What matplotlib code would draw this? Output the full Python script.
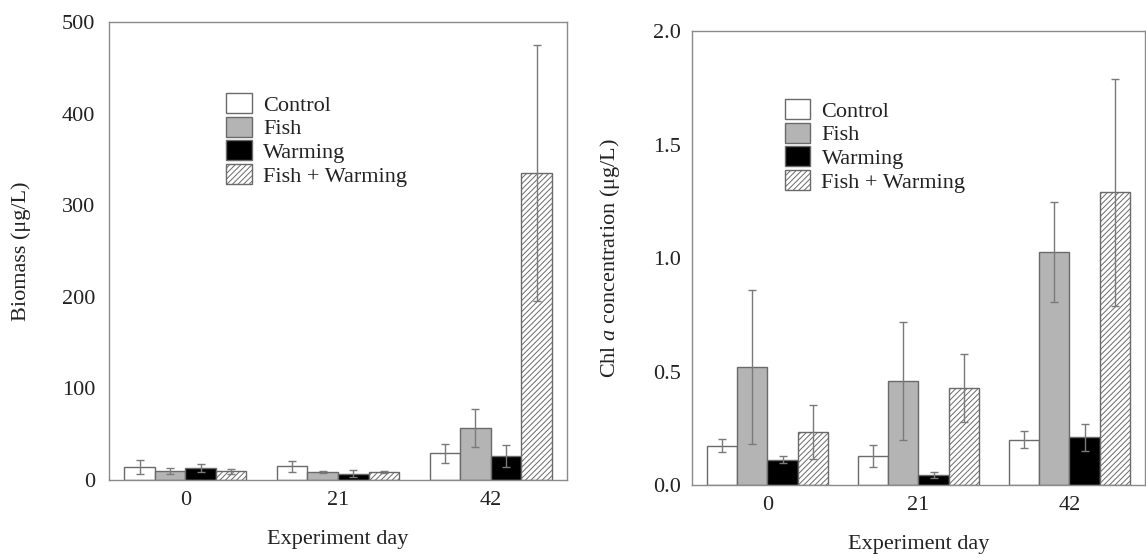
import matplotlib
matplotlib.use("Agg")
import matplotlib.pyplot as plt
import numpy as np

plt.rcParams['font.family'] = ['Liberation Serif', 'DejaVu Serif']
plt.rcParams['mathtext.fontset'] = 'custom'
plt.rcParams['mathtext.rm'] = 'Liberation Serif'
plt.rcParams['mathtext.it'] = 'Liberation Serif:italic'
plt.rcParams['hatch.color'] = '#9a9a9a'
plt.rcParams['hatch.linewidth'] = 0.7

days = ['0', '21', '42']
treatments = ['Control', 'Fish', 'Warming', 'Fish + Warming']

biomass_mean = {
    'Control': [14, 15, 29],
    'Fish': [10, 8.5, 57],
    'Warming': [13, 7, 26.5],
    'Fish + Warming': [9.5, 9, 335],
}
biomass_err = {
    'Control': [8, 6, 10],
    'Fish': [3.5, 1, 21],
    'Warming': [4, 4, 12],
    'Fish + Warming': [3, 1, 140],
}
chla_mean = {
    'Control': [0.174, 0.127, 0.20],
    'Fish': [0.52, 0.457, 1.026],
    'Warming': [0.112, 0.045, 0.21],
    'Fish + Warming': [0.233, 0.426, 1.29],
}
chla_err = {
    'Control': [0.03, 0.048, 0.036],
    'Fish': [0.34, 0.26, 0.22],
    'Warming': [0.015, 0.012, 0.059],
    'Fish + Warming': [0.12, 0.15, 0.50],
}

styles = {
    'Control': dict(color='white', hatch=None),
    'Fish': dict(color='#b4b4b4', hatch=None),
    'Warming': dict(color='black', hatch=None),
    'Fish + Warming': dict(color='white', hatch='//////'),
}

FS = 16
fig = plt.figure(figsize=(11.46, 5.54), dpi=100)
ax1 = fig.add_axes([0.0951, 0.1336, 0.3997, 0.8267])
ax2 = fig.add_axes([0.6038, 0.1245, 0.3953, 0.8195])


def draw(ax, means, errs, ylim, yticks, yfmt, ylabel, leg_anchor, ypad):
    x = np.arange(len(days))
    w = 0.2
    handles = []
    for i, t in enumerate(treatments):
        st = styles[t]
        b = ax.bar(x + (i - 1.5) * w, means[t], width=w, color=st['color'],
                   edgecolor='#6a6a6a', linewidth=1.0, hatch=st['hatch'],
                   label=t, zorder=2)
        ax.errorbar(x + (i - 1.5) * w, means[t], yerr=errs[t], fmt='none',
                    ecolor='#7a7a7a', elinewidth=1.0, capsize=3, capthick=1.0,
                    zorder=3)
        handles.append(b)
    ax.set_xlim(-0.5, 2.5)
    ax.set_ylim(*ylim)
    ax.set_xticks(x)
    ax.set_xticklabels(days)
    ax.set_yticks(yticks)
    ax.set_yticklabels([yfmt.format(v) for v in yticks])
    ax.tick_params(axis='both', length=0, labelsize=FS, colors='#222222')
    ax.tick_params(axis='x', pad=8)
    ax.tick_params(axis='y', pad=ypad)
    for s in ax.spines.values():
        s.set_color('#8a8a8a')
        s.set_linewidth(1.0)
    ax.set_xlabel('Experiment day', fontsize=FS, labelpad=14, color='#222222')
    ax.set_ylabel(ylabel, fontsize=FS, color='#222222')
    leg = ax.legend(handles=handles, loc='upper left', bbox_to_anchor=leg_anchor,
                    frameon=False, fontsize=FS, handlelength=1.15, handleheight=1.0,
                    handletextpad=0.5, labelspacing=0.05, borderpad=0, borderaxespad=0)
    for txt in leg.get_texts():
        txt.set_color('#222222')


draw(ax1, biomass_mean, biomass_err, (0, 500), [0, 100, 200, 300, 400, 500], '{:.0f}',
     'Biomass (μg/L)', (0.256, 0.845), 10)
draw(ax2, chla_mean, chla_err, (0, 2.0), [0.0, 0.5, 1.0, 1.5, 2.0], '{:.1f}',
     'Chl $\\mathit{a}$ concentration (μg/L)', (0.205, 0.85), 8)
ax1.yaxis.set_label_coords(-0.17, 0.5)
ax2.yaxis.set_label_coords(-0.155, 0.5)

fig.savefig('out.png', dpi=100)
